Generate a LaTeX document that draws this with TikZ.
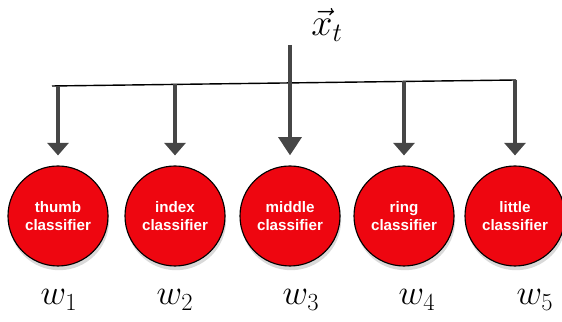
\documentclass[tikz,border=0pt]{standalone}
\usepackage{fix-cm}
\usepackage{amsmath}
\usepackage{fontspec}
\setsansfont{Liberation Sans}
\usetikzlibrary{positioning,arrows.meta,shadows}
\definecolor{clfred}{RGB}{238,6,16}
\definecolor{feedgray}{RGB}{70,70,70}
\tikzset{
  clf/.style={circle,draw=black,line width=0.8pt,fill=clfred,text=white,minimum size=25mm,inner sep=0pt,outer sep=0pt,align=center,
    font=\sffamily\bfseries\fontsize{10.8}{12.8}\selectfont,drop shadow={shadow xshift=0.8pt,shadow yshift=-3pt,opacity=0.3}},
  feed/.style={line width=3.4pt,feedgray,shorten >=7.5pt,-{Triangle[width=15pt,length=9pt]}},
  feedin/.style={feed,-{Triangle[width=16pt,length=13pt]}},
  bus/.style={line width=1pt,black},
  wlab/.style={inner sep=0pt,font=\fontsize{25}{30}\selectfont},
  xlab/.style={inner sep=0pt,font=\fontsize{27}{32}\selectfont}
}

\begin{document}
\begin{tikzpicture}[x=0.25mm,y=0.25mm]
      \useasboundingbox (0,0) rectangle (562,322);
      % classifiers
      \node[clf] (thumb) at (58,106) {thumb\\classifier};
      \node[clf] (index) at (175,106) {index\\classifier};
      \node[clf] (middle) at (290,106) {middle\\classifier};
      \node[clf] (ring) at (404,106) {ring\\classifier};
      \node[clf] (little) at (515,106) {little\\classifier};
      % input bus
      \coordinate (bl) at (52,236); \coordinate (br) at (516,242);
      \draw[bus] (bl) -- (br);
      \coordinate (in) at (290,277);
      \coordinate (b1) at (58,236.1); \coordinate (b2) at (175,237.6);
      \coordinate (b4) at (404,240.6); \coordinate (b5) at (515,242);
      \draw[feed] (b1) -- (thumb); \draw[feed] (b2) -- (index);
      \draw[feedin] (in) -- (middle);
      \draw[feed] (b4) -- (ring); \draw[feed] (b5) -- (little);
      % labels
      \node[xlab] (xt) at (327,297) {$\vec{x}_t$};
      \node[wlab] (w1) at (59,22) {$w_1$}; \node[wlab] (w2) at (175,22) {$w_2$};
      \node[wlab] (w3) at (301,22) {$w_3$}; \node[wlab] (w4) at (417,22) {$w_4$};
      \node[wlab] (w5) at (535,22) {$w_5$};
\end{tikzpicture}
\end{document}
